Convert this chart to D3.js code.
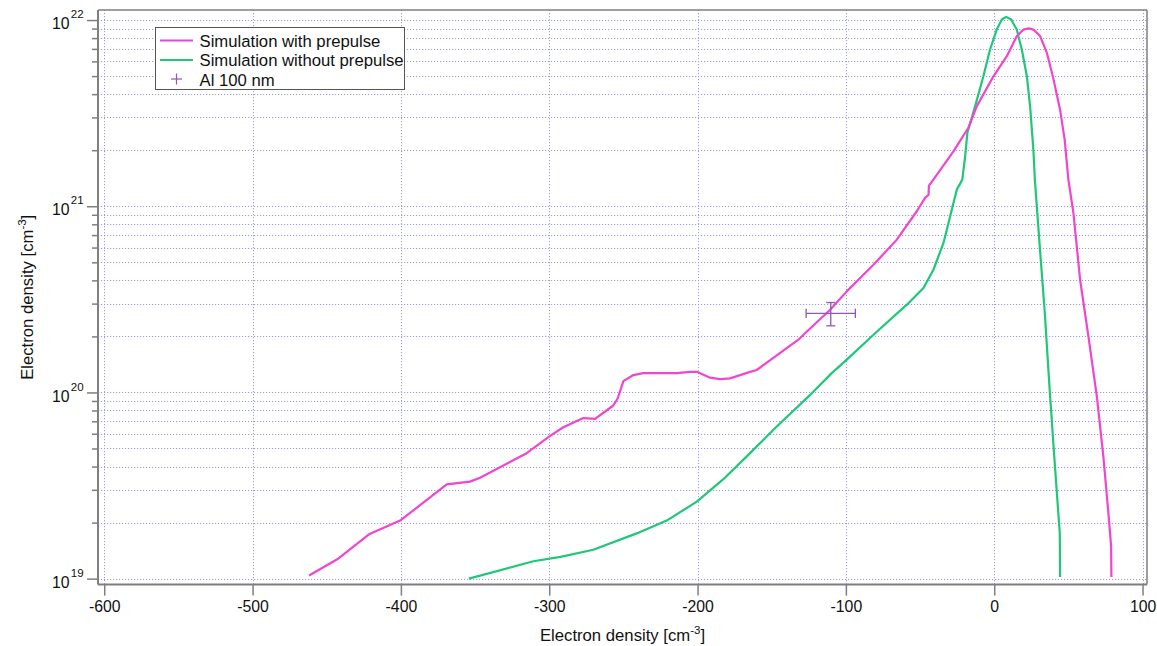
<!DOCTYPE html>
<html>
<head>
<meta charset="utf-8">
<script src="https://cdn.jsdelivr.net/npm/d3@7"></script>
<style>
  html, body { margin: 0; padding: 0; background: #fff; }
  svg { display: block; font-family: "Liberation Sans", Arial, sans-serif; }
</style>
</head>
<body>
<svg id="chart" width="1157" height="646"></svg>
<script>
// ---------- data ----------
const xWithPrepulse = [-461.9, -442.9, -421.5, -400.1, -369.1, -353.4, -346.6, -315.2, -299.4, -290.5, -277, -269.1, -256.8, -253.8, -250, -243.3, -236.5, -214, -205, -200.5, -191.6, -184.8, -178.1, -164.6, -160.1, -146.6, -132, -128.6, -110.6, -99.4, -81.4, -65.7, -52.2, -46.6, -44.3, -44.0, -41, -27.5, -17.4, -11.8, -0.5, 8.5, 15.2, 19.7, 23.1, 26.4, 31.0, 35.5, 40, 44.4, 47.5, 50, 53.4, 57.9, 63.5, 69.2, 73.6, 77, 78.8, 79];
const yWithPrepulse = [1.04e19, 1.27e19, 1.73e19, 2.06e19, 3.21e19, 3.32e19, 3.48e19, 4.72e19, 5.85e19, 6.50e19, 7.28e19, 7.21e19, 8.51e19, 9.31e19, 1.15e20, 1.24e20, 1.27e20, 1.27e20, 1.29e20, 1.29e20, 1.20e20, 1.18e20, 1.19e20, 1.29e20, 1.32e20, 1.58e20, 1.92e20, 2.04e20, 2.78e20, 3.49e20, 4.85e20, 6.61e20, 9.40e20, 1.11e21, 1.15e21, 1.29e21, 1.39e21, 1.97e21, 2.64e21, 3.44e21, 4.99e21, 6.40e21, 8.18e21, 8.89e21, 9.02e21, 8.89e21, 8.18e21, 6.67e21, 4.80e21, 3.30e21, 2.28e21, 1.39e21, 9.20e20, 4.03e20, 2.00e20, 9.51e19, 4.52e19, 2.24e19, 1.49e19, 1.02e19];

const xWithoutPrepulse = [-354.2, -310.7, -292.4, -270.3, -241, -220.8, -200.5, -182.6, -164.6, -146.6, -124.1, -120.8, -109.5, -99.4, -79.2, -58.9, -47.7, -41, -34.2, -29.7, -25.2, -21.5, -19.6, -18.1, -12.9, -7.3, -2.8, 1.7, 5.1, 8, 11.4, 15.2, 18.6, 22, 24.2, 26.4, 27.4, 30.7, 34.1, 37.4, 40.8, 44.2, 44.4];
const yWithoutPrepulse = [1.00e19, 1.24e19, 1.31e19, 1.43e19, 1.75e19, 2.05e19, 2.59e19, 3.42e19, 4.72e19, 6.56e19, 9.70e19, 1.03e20, 1.27e20, 1.50e20, 2.12e20, 2.96e20, 3.64e20, 4.56e20, 6.35e20, 8.83e20, 1.23e21, 1.39e21, 1.85e21, 2.48e21, 3.44e21, 4.99e21, 6.95e21, 8.89e21, 1.007e22, 1.04e22, 1.007e22, 8.89e21, 6.95e21, 4.99e21, 3.44e21, 2.01e21, 1.39e21, 6.08e20, 2.67e20, 1.03e20, 4.17e19, 1.75e19, 1.02e19];

// measured point "Al 100 nm"
const alX = [-110.2];
const alY = [2.66e20];
const alXErr = [16.6];
const alYLow = [2.28e20];
const alYHigh = [3.04e20];

const xTickValues = [-600, -500, -400, -300, -200, -100, 0, 100];
const yTickExponents = [19, 20, 21, 22];
const seriesNames = ["Simulation with prepulse", "Simulation without prepulse", "Al 100 nm"];
const axisTitle = "Electron density [cm";

// ---------- layout ----------
const colPink = "#f046cf", colGreen = "#1fc777", colAl = "#9057b8";
const gridCol = "#9b9be0", axisCol = "#7f7f7f";
const L = 98, R = 1147, T = 10, B = 584.6;
const tickFont = 15.8, titleFont = 16.7, supFont = 11.5;

const svg = d3.select("#chart");
const x = d3.scaleLinear().domain([-604.2, 103]).range([L, R]);
const y = d3.scaleLog().domain([Math.pow(10, 18.968), Math.pow(10, 22.054)]).range([B, T]);

const majorY = yTickExponents.map(e => Math.pow(10, e));
const minorY = [];
yTickExponents.slice(0, -1).forEach(e => { for (let m = 2; m <= 9; m++) minorY.push(m * Math.pow(10, e)); });
const allY = majorY.concat(minorY);

// grid
const grid = svg.append("g").attr("stroke", gridCol).attr("stroke-width", 1).attr("stroke-dasharray", "1.2,1.8");
grid.selectAll("line.gy").data(allY).enter().append("line")
  .attr("x1", L).attr("x2", R).attr("y1", d => Math.round(y(d)) + 0.5).attr("y2", d => Math.round(y(d)) + 0.5);
grid.selectAll("line.gx").data(xTickValues).enter().append("line")
  .attr("y1", T).attr("y2", B).attr("x1", d => Math.round(x(d)) + 0.5).attr("x2", d => Math.round(x(d)) + 0.5);

// frame (top/right)
svg.append("line").attr("x1", L).attr("x2", R).attr("y1", T).attr("y2", T).attr("stroke", axisCol).attr("stroke-width", 1.5);
svg.append("line").attr("x1", R).attr("x2", R).attr("y1", T).attr("y2", B).attr("stroke", axisCol).attr("stroke-width", 1.5);

// curves
const line = d3.line().x(d => x(d[0])).y(d => y(d[1]));
svg.append("path").datum(d3.zip(xWithoutPrepulse, yWithoutPrepulse))
  .attr("d", line).attr("fill", "none").attr("stroke", colGreen).attr("stroke-width", 2.2).attr("stroke-linejoin", "round");
svg.append("path").datum(d3.zip(xWithPrepulse, yWithPrepulse))
  .attr("d", line).attr("fill", "none").attr("stroke", colPink).attr("stroke-width", 2.2).attr("stroke-linejoin", "round");

// error bar
const eb = svg.append("g").attr("stroke", colAl).attr("stroke-width", 1.3).attr("fill", "none");
alX.forEach((cx, i) => {
  const px = x(cx), py = y(alY[i]);
  const xl = x(cx - alXErr[i]), xr = x(cx + alXErr[i]);
  const yt = y(alYHigh[i]), yb = y(alYLow[i]);
  eb.append("line").attr("x1", xl).attr("x2", xr).attr("y1", py).attr("y2", py);
  eb.append("line").attr("x1", px).attr("x2", px).attr("y1", yt).attr("y2", yb);
  eb.append("line").attr("x1", xl).attr("x2", xl).attr("y1", py - 4.7).attr("y2", py + 4.7);
  eb.append("line").attr("x1", xr).attr("x2", xr).attr("y1", py - 4.7).attr("y2", py + 4.7);
  eb.append("line").attr("x1", px - 4.5).attr("x2", px + 4.5).attr("y1", yt).attr("y2", yt);
  eb.append("line").attr("x1", px - 4.5).attr("x2", px + 4.5).attr("y1", yb).attr("y2", yb);
});

// x axis
const xAxis = svg.append("g").attr("transform", `translate(0,${B})`)
  .call(d3.axisBottom(x).tickValues(xTickValues).tickSize(11).tickSizeOuter(0).tickFormat(d3.format("d")));
xAxis.select(".domain").attr("stroke", axisCol).attr("stroke-width", 2).attr("d", `M${L},0H${R}`);
xAxis.selectAll(".tick line").attr("stroke", axisCol).attr("stroke-width", 1.5);
xAxis.selectAll(".tick text").attr("fill", "#111").attr("font-size", tickFont).attr("y", 16).attr("dy", "0.71em")
  .attr("font-family", "Liberation Sans, Arial, sans-serif").text(d => d < 0 ? "-" + Math.abs(d) : d);

// y axis
const yAxis = svg.append("g").attr("transform", `translate(${L},0)`)
  .call(d3.axisLeft(y).tickValues(majorY).tickSize(11).tickSizeOuter(0).tickFormat(""));
yAxis.select(".domain").attr("stroke", axisCol).attr("stroke-width", 2).attr("d", `M0,${T}V${B}`);
yAxis.selectAll(".tick line").attr("stroke", axisCol).attr("stroke-width", 1.5);
const yMinor = svg.append("g").attr("transform", `translate(${L},0)`)
  .call(d3.axisLeft(y).tickValues(minorY).tickSize(6).tickSizeOuter(0).tickFormat(""));
yMinor.select(".domain").remove();
yMinor.selectAll(".tick line").attr("stroke", axisCol).attr("stroke-width", 1.5);

// y tick labels 10^n
const yl = svg.append("g").attr("font-family", "Liberation Sans, Arial, sans-serif").attr("fill", "#111");
yTickExponents.forEach(e => {
  const py = y(Math.pow(10, e));
  const t = yl.append("text").attr("x", 52).attr("y", py + 9.2);
  t.append("tspan").attr("font-size", tickFont).text("10");
  t.append("tspan").attr("font-size", supFont).attr("dx", 1.2).attr("dy", -11).text(e);
});

// axis titles
const xt = svg.append("text").attr("x", (L + R) / 2).attr("y", 641).attr("text-anchor", "middle")
  .attr("font-size", titleFont).attr("fill", "#111");
xt.append("tspan").text(axisTitle);
xt.append("tspan").attr("font-size", supFont).attr("dy", -7.5).text("-3");
xt.append("tspan").attr("dy", 7.5).text("]");

const yt = svg.append("text").attr("transform", `translate(33,${(T + B) / 2}) rotate(-90)`).attr("text-anchor", "middle")
  .attr("font-size", titleFont).attr("fill", "#111");
yt.append("tspan").text(axisTitle);
yt.append("tspan").attr("font-size", supFont).attr("dy", -7.5).text("-3");
yt.append("tspan").attr("dy", 7.5).text("]");

// legend
const lg = svg.append("g");
lg.append("rect").attr("x", 155.5).attr("y", 27.5).attr("width", 249).attr("height", 62)
  .attr("fill", "#fff").attr("stroke", "#555").attr("stroke-width", 1);
const legendRows = [
  { name: seriesNames[0], col: colPink, kind: "line" },
  { name: seriesNames[1], col: colGreen, kind: "line" },
  { name: seriesNames[2], col: colAl, kind: "plus" }
];
legendRows.forEach((r, i) => {
  const cy = 40.5 + i * 19.5;
  if (r.kind === "line") {
    lg.append("line").attr("x1", 160).attr("x2", 193).attr("y1", cy).attr("y2", cy).attr("stroke", r.col).attr("stroke-width", 2.2);
  } else {
    lg.append("line").attr("x1", 171).attr("x2", 182).attr("y1", cy - 0.5).attr("y2", cy - 0.5).attr("stroke", r.col).attr("stroke-width", 1.2);
    lg.append("line").attr("x1", 176.5).attr("x2", 176.5).attr("y1", cy - 6).attr("y2", cy + 5).attr("stroke", r.col).attr("stroke-width", 1.2);
  }
  lg.append("text").attr("x", 199.5).attr("y", cy + 6).attr("font-size", titleFont).attr("fill", "#111").text(r.name);
});
</script>
</body>
</html>
